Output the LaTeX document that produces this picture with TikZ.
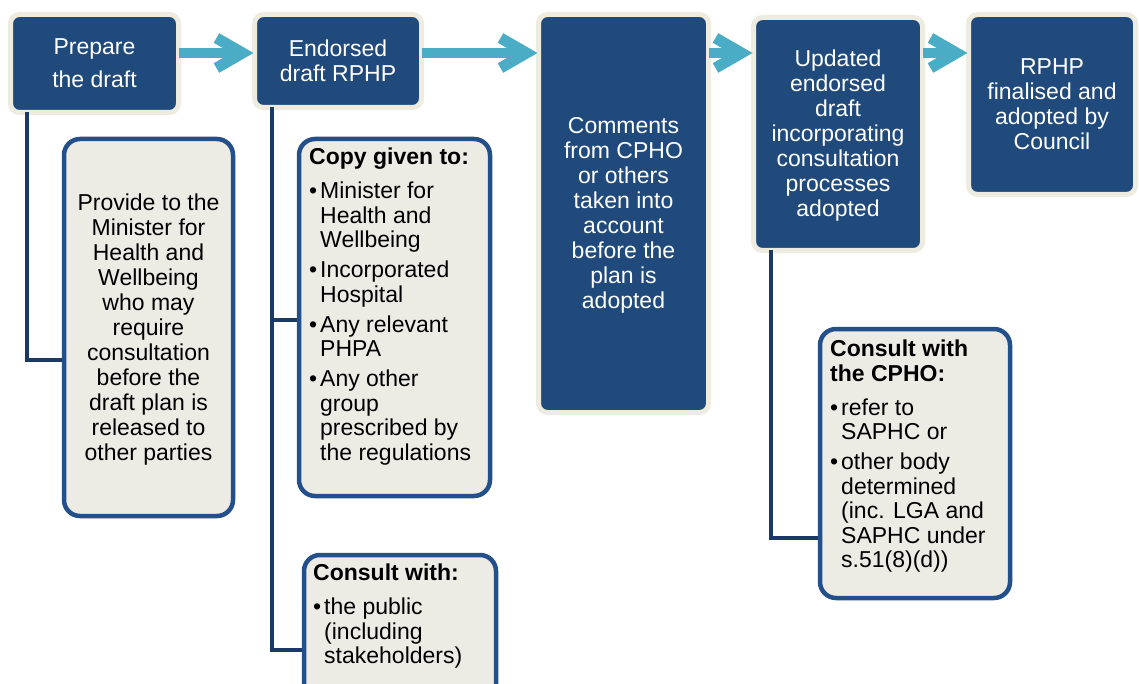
\documentclass[tikz,border=0pt]{standalone}
\usepackage{fontspec}
\setmainfont{Liberation Sans}
\usetikzlibrary{arrows.meta}
\definecolor{navyfill}{HTML}{214A7C}
\definecolor{creamc}{HTML}{EEECE1}
\definecolor{lightfill}{HTML}{EDECE4}
\definecolor{boxedge}{HTML}{23508A}
\definecolor{connc}{HTML}{1A3A64}
\definecolor{tealc}{HTML}{4BACC6}
\newcommand{\bulit}{\makebox[11pt][l]{\textbullet}}
\newcommand{\indt}{\hspace*{11pt}}
\begin{document}
\begin{tikzpicture}[x=1pt,y=-1pt,
  darkbox/.style={draw=creamc, line width=5pt, fill=navyfill, rounded corners=9pt,
    text=white, align=center, inner sep=0pt, outer sep=0pt, font=\fontsize{23}{25}\selectfont},
  lightbox/.style={draw=boxedge, line width=4.5pt, fill=lightfill, rounded corners=16pt,
    inner sep=0pt, outer sep=0pt, align=center, font=\fontsize{23}{25}\selectfont},
  listtext/.style={anchor=north west, align=left, inner sep=0pt, font=\fontsize{23}{24.5}\selectfont},
  conn/.style={draw=connc, line width=4pt},
  flow/.style={draw=tealc, line width=10pt, shorten >=1pt,
    -{Straight Barb[length=26pt,width=30pt,line width=11pt]}}
]
\useasboundingbox (0,0) rectangle (1139,684);
\clip (0,0) rectangle (1139,684);
\fill[white] (0,0) rectangle (1139,684);
\coordinate (row) at (0,53);

% dark step boxes
\node[darkbox, minimum width=168pt, minimum height=98pt, font=\fontsize{23}{33}\selectfont] (prep) at (94.5,63.5) {Prepare\\the draft};
\node[darkbox, minimum width=167pt, minimum height=93pt] (endorsed) at (338,61) {Endorsed\\draft RPHP};
\node[darkbox, minimum width=170pt, minimum height=398pt] (comments) at (623.5,213.5) {\rule{0pt}{20pt}Comments\\from CPHO\\or others\\taken into\\account\\before the\\plan is\\adopted};
\node[darkbox, minimum width=169pt, minimum height=233pt] (updated) at (838,134) {\rule{0pt}{20pt}Updated\\endorsed\\draft\\incorporating\\consultation\\processes\\adopted};
\node[darkbox, minimum width=167pt, minimum height=180pt] (rphp) at (1052,104.5) {RPHP\\finalised and\\adopted by\\Council};

% connectors (behind light boxes)
\draw[conn] ([xshift=16.5pt]prep.south west) |- (64,360) coordinate (c1);
\draw[conn] ([xshift=17.5pt]endorsed.south west) |- (304,650) coordinate (c3);
\draw[conn] ([xshift=17.5pt]endorsed.south west) |- (299,320) coordinate (c2);
\draw[conn] ([xshift=17.5pt]updated.south west) |- (820,538) coordinate (c4);

% light boxes
\node[lightbox, minimum width=169pt, minimum height=377pt] (provide) at (148.5,327.5) {\rule{0pt}{20pt}Provide to the\\Minister for\\Health and\\Wellbeing\\who may\\require\\consultation\\before the\\draft plan is\\released to\\other parties};
\node[lightbox, minimum width=191pt, minimum height=357pt] (copy) at (394.5,317.5) {};
\node[lightbox, minimum width=192pt, minimum height=165pt] (consult) at (400,637.5) {};
\node[lightbox, minimum width=190pt, minimum height=269pt] (cpho) at (915,463.5) {};

\node[listtext] (copytxt) at ([xshift=10pt,yshift=-9pt]copy.north west) {\textbf{Copy given to:}\\[9.5pt]
\bulit Minister for\\ \indt Health and\\ \indt Wellbeing\\[5.5pt]
\bulit Incorporated\\ \indt Hospital\\[5.5pt]
\bulit Any relevant\\ \indt PHPA\\[5.5pt]
\bulit Any other\\ \indt group\\ \indt prescribed by\\ \indt the regulations};

\node[listtext] (consulttxt) at ([xshift=9pt,yshift=-9pt]consult.north west) {\textbf{Consult with:}\\[9.5pt]
\bulit the public\\ \indt(including\\ \indt stakeholders)};

\node[listtext] (cphotxt) at ([xshift=10pt,yshift=-11pt]cpho.north west) {\textbf{Consult with}\\ \textbf{the CPHO:}\\[9.5pt]
\bulit refer to\\ \indt SAPHC or\\[5.5pt]
\bulit other body\\ \indt determined\\ \indt (inc. LGA and\\ \indt SAPHC under\\ \indt s.51(8)(d))};

% flow arrows
\draw[flow] (prep.east |- row) -- (endorsed.west |- row);
\draw[flow] (endorsed.east |- row) -- (comments.west |- row);
\draw[flow] (comments.east |- row) -- (updated.west |- row);
\draw[flow] (updated.east |- row) -- (rphp.west |- row);
\end{tikzpicture}
\end{document}
